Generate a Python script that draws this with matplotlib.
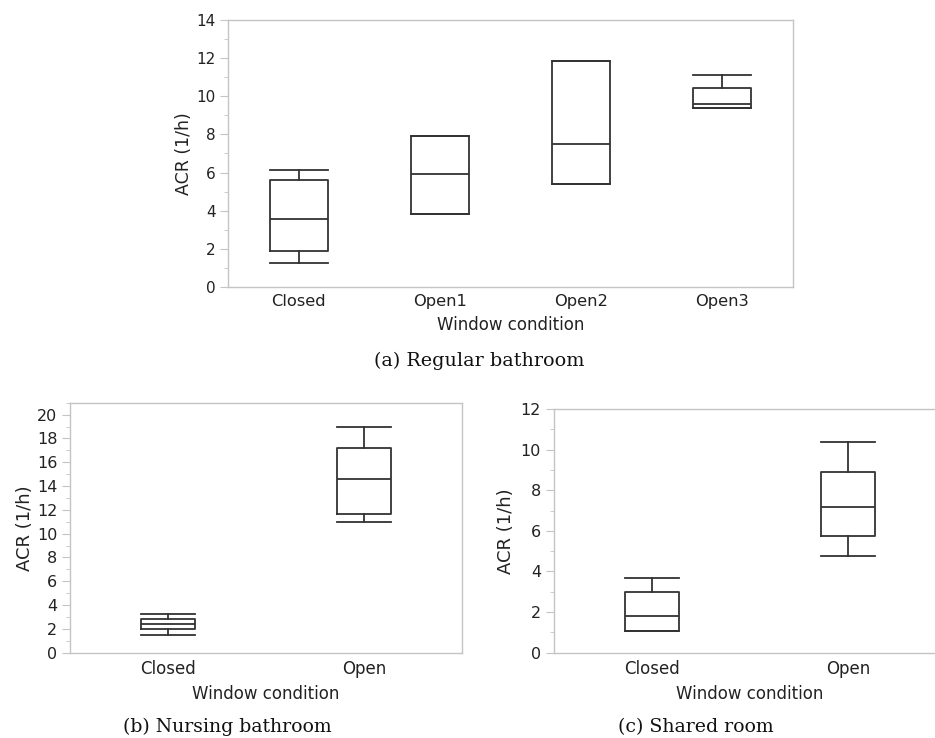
import matplotlib
matplotlib.use("Agg")
import matplotlib.pyplot as plt
from matplotlib.ticker import MultipleLocator

# ---- data ----
cats_a = ["Closed", "Open1", "Open2", "Open3"]
a_whislo = [1.25, 3.81, 5.40, 9.37]
a_q1     = [1.87, 3.81, 5.40, 9.37]
a_med    = [3.57, 5.91, 7.50, 9.58]
a_q3     = [5.62, 7.94, 11.85, 10.45]
a_whishi = [6.13, 7.94, 11.85, 11.12]

cats_b = ["Closed", "Open"]
b_whislo = [1.51, 10.98]
b_q1     = [1.96, 11.63]
b_med    = [2.38, 14.56]
b_q3     = [2.80, 17.16]
b_whishi = [3.22, 18.92]

cats_c = ["Closed", "Open"]
c_whislo = [1.06, 4.75]
c_q1     = [1.08, 5.73]
c_med    = [1.82, 7.17]
c_q3     = [2.98, 8.89]
c_whishi = [3.67, 10.36]

W, H = 935, 738
fig = plt.figure(figsize=(W / 100, H / 100), dpi=100)

spine_col = "#c4c4c4"
box_col = "#333333"
txt_col = "#222222"


def px_axes(l, r, t, b):
    return fig.add_axes([l / W, 1 - b / H, (r - l) / W, (b - t) / H])


def draw(ax, cats, lo, q1, med, q3, hi, width, ymax, fs_x, fs_y, fs_yl, fs_xl,
         xl_pad, yl_pad):
    stats = []
    for i in range(len(cats)):
        stats.append(dict(whislo=lo[i], q1=q1[i], med=med[i], q3=q3[i],
                          whishi=hi[i], fliers=[], label=cats[i]))
    pos = list(range(len(cats)))
    ax.bxp(stats, positions=pos, widths=width, capwidths=width,
           showfliers=False, manage_ticks=False,
           boxprops=dict(color=box_col, lw=1.3),
           whiskerprops=dict(color=box_col, lw=1.3),
           capprops=dict(color=box_col, lw=1.3),
           medianprops=dict(color=box_col, lw=1.3))
    ax.set_xlim(-0.5, len(cats) - 0.5)
    ax.set_ylim(0, ymax)
    ax.set_xticks(pos)
    ax.set_xticklabels(cats, fontsize=fs_x, color=txt_col)
    ax.set_yticks(range(0, int(ymax) + 1, 2) if ymax % 2 == 0 else range(0, int(ymax), 2))
    ax.yaxis.set_minor_locator(MultipleLocator(1))
    ax.tick_params(axis="x", length=0, pad=5)
    ax.tick_params(axis="y", which="major", length=6, color=spine_col,
                   labelsize=fs_y, labelcolor=txt_col, pad=3)
    ax.tick_params(axis="y", which="minor", length=3, color=spine_col)
    for s in ax.spines.values():
        s.set_color(spine_col)
        s.set_linewidth(1.0)
    ax.set_ylabel("ACR (1/h)", fontsize=fs_yl, color=txt_col, labelpad=yl_pad)
    ax.set_xlabel("Window condition", fontsize=fs_xl, color=txt_col, labelpad=xl_pad)


# (a)
ax_a = px_axes(228, 793, 20, 287)
draw(ax_a, cats_a, a_whislo, a_q1, a_med, a_q3, a_whishi, 0.41, 14,
     11.7, 11, 12.5, 12, 5, 2)
fig.text(479 / W, 1 - 361 / H, "(a) Regular bathroom", ha="center", va="center",
         family="DejaVu Serif", fontsize=13.8, color="#111111")

# (b)
ax_b = px_axes(70, 462, 402.7, 652.7)
draw(ax_b, cats_b, b_whislo, b_q1, b_med, b_q3, b_whishi, 0.28, 21,
     12, 11.5, 13, 12, 5, 2)
fig.text(227 / W, 1 - 727 / H, "(b) Nursing bathroom", ha="center", va="center",
         family="DejaVu Serif", fontsize=13.6, color="#111111")

# (c)
ax_c = px_axes(553.5, 946, 409, 652.7)
draw(ax_c, cats_c, c_whislo, c_q1, c_med, c_q3, c_whishi, 0.275, 12,
     12, 11.5, 13, 12, 5, 4)
fig.text(696 / W, 1 - 727 / H, "(c) Shared room", ha="center", va="center",
         family="DejaVu Serif", fontsize=13.6, color="#111111")

fig.savefig("out.png", dpi=100)
